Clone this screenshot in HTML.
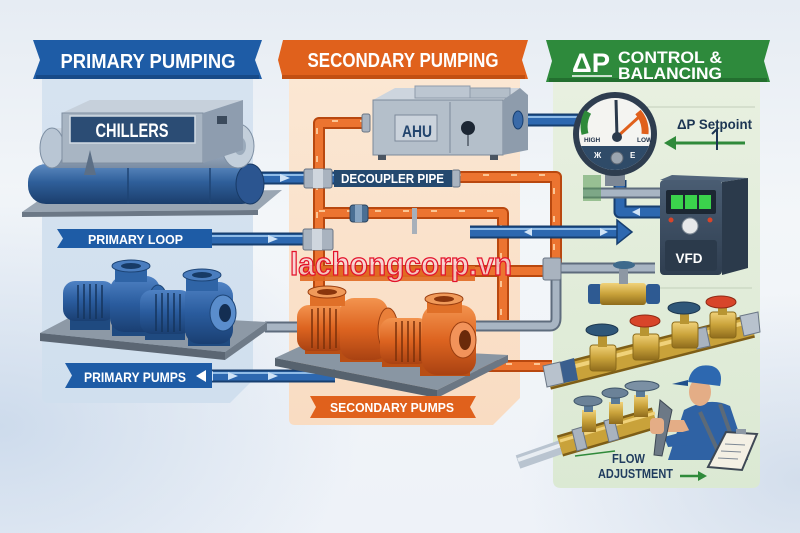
<!DOCTYPE html>
<html><head><meta charset="utf-8">
<style>
html,body{margin:0;padding:0;width:800px;height:533px;overflow:hidden;background:#eef2f7}
svg{display:block}
text{font-family:"Liberation Sans",sans-serif;font-weight:bold}
</style></head><body>
<svg width="800" height="533" viewBox="0 0 800 533" xmlns="http://www.w3.org/2000/svg">
<defs>
<linearGradient id="bg" x1="0" y1="0" x2="0" y2="1">
 <stop offset="0" stop-color="#e6ecf3"/><stop offset="0.4" stop-color="#f3f6f9"/><stop offset="1" stop-color="#eef2f8"/>
</linearGradient>
<radialGradient id="bgl" cx="0" cy="0.8" r="0.45">
 <stop offset="0" stop-color="#cddbec"/><stop offset="1" stop-color="#cddbec" stop-opacity="0"/>
</radialGradient>
<radialGradient id="bgr" cx="1" cy="0.9" r="0.35">
 <stop offset="0" stop-color="#d3deec"/><stop offset="1" stop-color="#d3deec" stop-opacity="0"/>
</radialGradient>
<linearGradient id="pp" x1="0" y1="0" x2="0" y2="1">
 <stop offset="0" stop-color="#d6e3f0"/><stop offset="1" stop-color="#d0dfee"/>
</linearGradient>
<linearGradient id="sp" x1="0" y1="0" x2="0" y2="1">
 <stop offset="0" stop-color="#fbe7d3"/><stop offset="1" stop-color="#f9dcc2"/>
</linearGradient>
<linearGradient id="gp" x1="0" y1="0" x2="0" y2="1">
 <stop offset="0" stop-color="#e8f0e0"/><stop offset="1" stop-color="#dbe9d3"/>
</linearGradient>
<linearGradient id="bcyl" x1="0" y1="0" x2="0" y2="1">
 <stop offset="0" stop-color="#5d8ac0"/><stop offset="0.45" stop-color="#2f5f9a"/><stop offset="1" stop-color="#1b3e6c"/>
</linearGradient>
<linearGradient id="gcyl" x1="0" y1="0" x2="0" y2="1">
 <stop offset="0" stop-color="#cdd7e2"/><stop offset="0.5" stop-color="#a3b3c5"/><stop offset="1" stop-color="#7a8ca3"/>
</linearGradient>
<linearGradient id="bpump" x1="0" y1="0" x2="0" y2="1">
 <stop offset="0" stop-color="#4f82c4"/><stop offset="0.5" stop-color="#2a5c9e"/><stop offset="1" stop-color="#1a3f72"/>
</linearGradient>
<linearGradient id="opump" x1="0" y1="0" x2="0" y2="1">
 <stop offset="0" stop-color="#f3944f"/><stop offset="0.5" stop-color="#dd6420"/><stop offset="1" stop-color="#a94212"/>
</linearGradient>
<linearGradient id="brass" x1="0" y1="0" x2="0" y2="1">
 <stop offset="0" stop-color="#f0d27a"/><stop offset="0.5" stop-color="#c9a23a"/><stop offset="1" stop-color="#8f6c1c"/>
</linearGradient>
<linearGradient id="vfd" x1="0" y1="0" x2="0" y2="1">
 <stop offset="0" stop-color="#4a5d73"/><stop offset="1" stop-color="#2f3e50"/>
</linearGradient>
<clipPath id="gclip"><circle cx="615" cy="134" r="36"/></clipPath>
</defs>

<!-- background -->
<rect width="800" height="533" fill="url(#bg)"/>
<rect width="800" height="533" fill="url(#bgl)"/>
<rect width="800" height="533" fill="url(#bgr)"/>

<!-- panels -->
<path d="M42 79 H253 V380 L230 403 H48 Q42 403 42 397 Z" fill="url(#pp)"/>
<path d="M289 79 H520 V398 L493 425 H295 Q289 425 289 419 Z" fill="url(#sp)"/>
<path d="M553 80 H760 V480 Q760 488 752 488 H561 Q553 488 553 480 Z" fill="url(#gp)"/>
<line x1="600" y1="107" x2="755" y2="107" stroke="#c3cfbb" stroke-width="1"/>
<line x1="640" y1="288" x2="752" y2="288" stroke="#c3cfbb" stroke-width="1"/>

<!-- banners -->
<polygon points="33,40 262,40 255,60 262,79 33,79 40,60" fill="#1e5ca6"/>
<rect x="36" y="75" width="223" height="4" fill="#174a88"/>
<text x="148" y="68" font-size="20" fill="#fff" text-anchor="middle" textLength="175" lengthAdjust="spacingAndGlyphs">PRIMARY PUMPING</text>

<polygon points="283,40 528,40 522,60 528,79 283,79 278,60" fill="#e0611c"/>
<rect x="282" y="75" width="243" height="4" fill="#c24f12"/>
<text x="403" y="67" font-size="20" fill="#fff" text-anchor="middle" textLength="191" lengthAdjust="spacingAndGlyphs">SECONDARY PUMPING</text>

<polygon points="546,40 770,40 764,61 770,82 546,82 552,61" fill="#2e8a3c"/>
<rect x="549" y="78" width="218" height="4" fill="#236f2f"/>
<text x="572" y="72" font-size="27" fill="#fff" textLength="38" lengthAdjust="spacingAndGlyphs">ΔP</text>
<line x1="572" y1="76" x2="612" y2="76" stroke="#fff" stroke-width="1.5"/>
<text x="618" y="63" font-size="17" fill="#fff" textLength="104" lengthAdjust="spacingAndGlyphs">CONTROL &amp;</text>
<text x="618" y="79" font-size="17" fill="#fff" textLength="104" lengthAdjust="spacingAndGlyphs">BALANCING</text>

<!-- ============ PIPES ============ -->
<g fill="none" stroke-linejoin="round" stroke-linecap="butt">
 <g stroke="#b9480f" stroke-width="12">
  <path d="M366 123 H319 V300"/>
  <path d="M319 213 H503 V320"/>
  <path d="M455 177 H556 V268"/>
  <path d="M300 271 H560"/>
  <path d="M478 366 H552"/>
 </g>
 <g stroke="#ec7430" stroke-width="8">
  <path d="M366 123 H319 V300"/>
  <path d="M319 213 H503 V320"/>
  <path d="M455 177 H556 V268"/>
  <path d="M300 271 H560"/>
  <path d="M478 366 H552"/>
 </g>
 <g stroke="#fbc594" stroke-width="2" stroke-dasharray="6 22">
  <path d="M366 121 H317 V300"/>
  <path d="M319 211 H501 V320"/>
  <path d="M455 175 H554 V268"/>
  <path d="M478 364 H552"/>
 </g>
 <g stroke="#173f70" stroke-width="13">
  <path d="M250 178 H460"/>
  <path d="M205 239 H305"/>
  <path d="M470 232 H620"/>
  <path d="M205 376 H335"/>
  <path d="M505 120 H578"/>
  <path d="M620 180 V212 H660"/>
 </g>
 <g stroke="#2d68b0" stroke-width="9">
  <path d="M250 178 H460"/>
  <path d="M205 239 H305"/>
  <path d="M470 232 H620"/>
  <path d="M205 376 H335"/>
  <path d="M505 120 H578"/>
  <path d="M620 180 V212 H660"/>
 </g>
 <g stroke="#8fbbe6" stroke-width="2">
  <path d="M250 175 H460"/>
  <path d="M205 236 H305"/>
  <path d="M470 229 H620"/>
  <path d="M210 373 H335"/>
  <path d="M505 117 H578"/>
 </g>
 <g stroke="#5e6c7d" stroke-width="11">
  <path d="M265 327 H300"/>
  <path d="M475 326 H550 Q556 326 556 318 V272"/>
  <path d="M583 193 H660"/>
  <path d="M545 268 H655"/>
 </g>
 <g stroke="#a8b5c3" stroke-width="7">
  <path d="M265 327 H300"/>
  <path d="M475 326 H550 Q556 326 556 318 V272"/>
  <path d="M583 193 H660"/>
  <path d="M545 268 H655"/>
 </g>
 <path d="M518 462 L590 437" stroke="#b9c4d0" stroke-width="14"/>
 <path d="M518 460 L590 435" stroke="#e8edf2" stroke-width="4"/>
</g>
<polygon points="617,220 632,232 617,244" fill="#2d68b0" stroke="#173f70" stroke-width="1.5"/>
<g fill="#cfe3f7">
 <polygon points="280,174 290,178 280,182"/>
 <polygon points="268,235 278,239 268,243"/>
 <polygon points="196,239 206,234 206,244"/>
 <polygon points="228,372 238,376 228,380"/>
 <polygon points="268,372 278,376 268,380"/>
 <polygon points="205,376 213,371 213,381"/>
 <polygon points="600,228 608,232 600,236"/>
 <polygon points="532,228 524,232 532,236"/>
 <polygon points="640,208 632,212 640,216"/>
</g>

<!-- couplings -->
<g>
 <rect x="304" y="169" width="28" height="19" rx="2" fill="#a9b3bf" stroke="#6a7685"/>
 <rect x="313" y="169" width="10" height="19" fill="#cfd6de"/>
 <rect x="452" y="170" width="8" height="17" rx="2" fill="#a9b3bf" stroke="#6a7685"/>
 <rect x="303" y="229" width="30" height="21" rx="2" fill="#a9b3bf" stroke="#6a7685"/>
 <rect x="312" y="229" width="10" height="21" fill="#cfd6de"/>
 <rect x="350" y="205" width="18" height="17" rx="3" fill="#4a6f94" stroke="#2c4560"/>
 <rect x="355" y="205" width="7" height="17" fill="#86a4c2"/>
 <rect x="362" y="114" width="8" height="18" rx="2" fill="#a9b3bf" stroke="#6a7685"/>
 <rect x="412" y="208" width="5" height="26" fill="#a7b0ba"/>
 <rect x="543" y="258" width="18" height="22" rx="2" fill="#a9b3bf" stroke="#6a7685"/>
</g>

<rect x="334" y="170" width="118" height="17" fill="#24496f"/>
<text x="341" y="183" font-size="12.5" fill="#fff" textLength="103" lengthAdjust="spacingAndGlyphs">DECOUPLER PIPE</text>

<!-- ============ CHILLERS ============ -->
<polygon points="22,212 48,194 282,190 258,210" fill="#9aa6b3"/>
<polygon points="22,212 258,210 258,215 22,217" fill="#6c7886"/>
<rect x="28" y="164" width="232" height="40" rx="18" fill="url(#bcyl)"/>
<ellipse cx="250" cy="184" rx="14" ry="20" fill="#2b5590" stroke="#183a66"/>
<line x1="128" y1="166" x2="128" y2="203" stroke="#1e4474" stroke-width="1.5"/>
<line x1="210" y1="166" x2="210" y2="203" stroke="#1e4474" stroke-width="1.5"/>
<rect x="40" y="128" width="212" height="40" rx="16" fill="url(#gcyl)"/>
<ellipse cx="52" cy="148" rx="12" ry="20" fill="#b9c6d4" stroke="#7e8fa3"/>
<ellipse cx="238" cy="146" rx="16" ry="22" fill="#c3cfdb" stroke="#7e8fa3"/>
<ellipse cx="240" cy="146" rx="6" ry="9" fill="#9aaabb"/>
<polygon points="62,113 90,100 243,100 203,113" fill="#c6d0db"/>
<rect x="62" y="113" width="141" height="50" fill="#a8b5c3" stroke="#7f8ea0" stroke-width="1"/>
<polygon points="203,113 243,100 243,150 203,163" fill="#8e9daf"/>
<rect x="217" y="116" width="10" height="8" fill="#3b4a5c"/>
<rect x="70" y="116" width="125" height="27" fill="#2b4c74" stroke="#d3dbe4" stroke-width="1.5"/>
<text x="132" y="137" font-size="19" fill="#fff" text-anchor="middle" textLength="73" lengthAdjust="spacingAndGlyphs">CHILLERS</text>
<path d="M84 175 L90 150 L96 175 Z" fill="#5c6f86"/>

<!-- ============ AHU ============ -->
<polygon points="373,100 395,88 520,88 503,100" fill="#cdd5de"/>
<rect x="415" y="86" width="55" height="12" fill="#bcc6d1" stroke="#8f9cab"/>
<rect x="470" y="88" width="40" height="10" fill="#b3bec9" stroke="#8f9cab"/>
<rect x="373" y="100" width="130" height="55" fill="#b4bfca" stroke="#7c8a9a"/>
<polygon points="503,100 520,88 528,95 528,150 503,155" fill="#8e9cac"/>
<rect x="395" y="115" width="42" height="26" fill="#cbd3dc" stroke="#7c8a9a"/>
<text x="417" y="137" font-size="17" fill="#23456e" text-anchor="middle" textLength="30" lengthAdjust="spacingAndGlyphs">AHU</text>
<line x1="450" y1="102" x2="450" y2="153" stroke="#7c8a9a"/>
<circle cx="468" cy="128" r="7" fill="#1c2633"/>
<line x1="468" y1="135" x2="468" y2="146" stroke="#1c2633"/>
<rect x="378" y="155" width="8" height="5" fill="#4a5562"/>
<rect x="490" y="155" width="8" height="5" fill="#4a5562"/>
<ellipse cx="518" cy="120" rx="5" ry="9" fill="#3a6aa8" stroke="#173f70"/>

<!-- ============ GAUGE ============ -->
<rect x="583" y="175" width="18" height="26" fill="#5a9a55" opacity="0.55"/>
<rect x="605" y="172" width="20" height="14" fill="#7d8896"/>
<circle cx="615" cy="134" r="42" fill="#2e3d4f"/>
<circle cx="615" cy="134" r="36" fill="#f4f4f1"/>
<rect x="575" y="146" width="80" height="30" fill="#2f4b68" clip-path="url(#gclip)"/>
<path d="M588 112 A30 30 0 0 0 585 134" fill="none" stroke="#2f8a3a" stroke-width="7"/>
<path d="M638 112 A30 30 0 0 1 645 134" fill="none" stroke="#e0601c" stroke-width="7"/>
<line x1="617" y1="137" x2="616" y2="100" stroke="#2b3a4c" stroke-width="3"/>
<line x1="617" y1="137" x2="640" y2="116" stroke="#e0601c" stroke-width="3"/>
<circle cx="617" cy="137" r="5" fill="#2b3a4c"/>
<text x="584" y="142" font-size="6.5" fill="#1f3048">HIGH</text>
<text x="637" y="142" font-size="6.5" fill="#1f3048">LOW</text>
<text x="594" y="158" font-size="8" fill="#fff">Ж</text>
<text x="630" y="158" font-size="8" fill="#fff">E</text>
<circle cx="617" cy="158" r="6" fill="#9ba5b0" stroke="#5c6673"/>

<!-- setpoint -->
<text x="677" y="129" font-size="14" fill="#1c3553" font-weight="normal" textLength="75" lengthAdjust="spacingAndGlyphs">ΔP Setpoint</text>
<line x1="672" y1="143" x2="745" y2="143" stroke="#2f8a3a" stroke-width="3"/>
<polygon points="664,143 676,136 676,150" fill="#2f8a3a"/>
<path d="M712 134 L717 129 L717 150" fill="none" stroke="#1c3553" stroke-width="2"/>

<!-- ============ VFD ============ -->
<polygon points="660,180 672,175 748,178 722,182" fill="#52657b"/>
<polygon points="722,182 748,178 748,268 722,275" fill="#2b3a4b"/>
<rect x="660" y="180" width="62" height="95" rx="4" fill="url(#vfd)"/>
<rect x="666" y="190" width="50" height="24" rx="2" fill="#1c2733"/>
<rect x="671" y="195" width="12" height="14" fill="#3bd34c"/>
<rect x="685" y="195" width="12" height="14" fill="#3bd34c"/>
<rect x="699" y="195" width="12" height="14" fill="#3bd34c"/>
<circle cx="671" cy="220" r="2.5" fill="#d8452a"/>
<circle cx="710" cy="220" r="2.5" fill="#d8452a"/>
<circle cx="690" cy="226" r="8" fill="#e6e8ea" stroke="#7d8894"/>
<rect x="665" y="240" width="52" height="31" rx="3" fill="#2b3a4b"/>
<text x="689" y="263" font-size="14" fill="#fff" text-anchor="middle" textLength="27" lengthAdjust="spacingAndGlyphs">VFD</text>

<!-- ============ PRIMARY LOOP label ============ -->
<polygon points="57,229 212,229 212,248 57,248 63,238.5" fill="#1e5ca6"/>
<text x="88" y="244" font-size="13" fill="#fff" textLength="95" lengthAdjust="spacingAndGlyphs">PRIMARY LOOP</text>

<!-- ============ PRIMARY PUMPS ============ -->
<polygon points="40,333 80,312 267,322 225,352" fill="#8d99a6"/>
<polygon points="40,333 225,352 225,360 40,341" fill="#5b6673"/>
<polygon points="225,352 267,322 267,330 225,360" fill="#6f7b88"/>
<rect x="70" y="318" width="40" height="12" fill="#1f4a80"/>
<rect x="112" y="322" width="40" height="14" fill="#1f4a80"/>
<rect x="145" y="328" width="40" height="12" fill="#1f4a80"/>
<rect x="188" y="332" width="42" height="14" fill="#1f4a80"/>
<rect x="63" y="281" width="52" height="40" rx="12" fill="url(#bpump)"/>
<g stroke="#15345c" stroke-width="1.5">
 <line x1="78" y1="285" x2="78" y2="318"/><line x1="84" y1="284" x2="84" y2="319"/><line x1="90" y1="284" x2="90" y2="319"/><line x1="96" y1="284" x2="96" y2="319"/><line x1="102" y1="285" x2="102" y2="318"/>
</g>
<rect x="110" y="276" width="50" height="56" rx="14" fill="url(#bpump)"/>
<rect x="115" y="266" width="32" height="16" fill="#2f64a6"/>
<ellipse cx="131" cy="266" rx="19" ry="6" fill="#4a7dbf" stroke="#1d4577"/>
<ellipse cx="131" cy="266" rx="10" ry="3" fill="#173a66"/>
<ellipse cx="158" cy="305" rx="10" ry="20" fill="#3368ab" stroke="#1d4577"/>
<rect x="140" y="290" width="52" height="44" rx="12" fill="url(#bpump)"/>
<g stroke="#15345c" stroke-width="1.5">
 <line x1="156" y1="294" x2="156" y2="331"/><line x1="162" y1="293" x2="162" y2="332"/><line x1="168" y1="293" x2="168" y2="332"/><line x1="174" y1="293" x2="174" y2="332"/><line x1="180" y1="294" x2="180" y2="331"/>
</g>
<rect x="185" y="282" width="48" height="62" rx="14" fill="url(#bpump)"/>
<rect x="186" y="275" width="32" height="16" fill="#2f64a6"/>
<ellipse cx="202" cy="275" rx="19" ry="6" fill="#4a7dbf" stroke="#1d4577"/>
<ellipse cx="202" cy="275" rx="10" ry="3" fill="#173a66"/>
<ellipse cx="223" cy="313" rx="13" ry="18" fill="#5a8dcc" stroke="#1d4577"/>
<ellipse cx="225" cy="313" rx="6" ry="9" fill="#132e52"/>

<polygon points="65,363 212,363 212,388 65,388 72,375.5" fill="#1e5ca6"/>
<text x="84" y="382" font-size="14" fill="#fff" textLength="102" lengthAdjust="spacingAndGlyphs">PRIMARY PUMPS</text>
<polygon points="196,376 206,370 206,382" fill="#fff"/>

<!-- ============ SECONDARY PUMPS ============ -->
<polygon points="275,358 303,345 508,355 437,390" fill="#8996a3"/>
<polygon points="275,358 437,390 437,398 275,366" fill="#56626e"/>
<polygon points="437,390 508,355 508,362 437,398" fill="#6b7784"/>
<rect x="305" y="342" width="40" height="12" fill="#b94e14"/>
<rect x="340" y="348" width="45" height="14" fill="#b94e14"/>
<rect x="382" y="355" width="40" height="12" fill="#b94e14"/>
<rect x="420" y="360" width="50" height="16" fill="#b94e14"/>
<rect x="297" y="305" width="50" height="46" rx="12" fill="url(#opump)"/>
<g stroke="#7a300a" stroke-width="1.5">
 <line x1="312" y1="309" x2="312" y2="348"/><line x1="318" y1="308" x2="318" y2="349"/><line x1="324" y1="308" x2="324" y2="349"/><line x1="330" y1="308" x2="330" y2="349"/><line x1="336" y1="309" x2="336" y2="348"/>
</g>
<rect x="340" y="298" width="48" height="62" rx="14" fill="url(#opump)"/>
<rect x="310" y="292" width="35" height="14" fill="#e07028"/>
<ellipse cx="327" cy="292" rx="19" ry="6" fill="#f09a5a" stroke="#9a3e10"/>
<ellipse cx="327" cy="292" rx="10" ry="3" fill="#8a350c"/>
<ellipse cx="388" cy="330" rx="10" ry="22" fill="#e9803a" stroke="#9a3e10"/>
<rect x="380" y="318" width="50" height="46" rx="12" fill="url(#opump)"/>
<g stroke="#7a300a" stroke-width="1.5">
 <line x1="396" y1="322" x2="396" y2="361"/><line x1="402" y1="321" x2="402" y2="362"/><line x1="408" y1="321" x2="408" y2="362"/><line x1="414" y1="321" x2="414" y2="362"/><line x1="420" y1="322" x2="420" y2="361"/>
</g>
<rect x="422" y="305" width="54" height="70" rx="15" fill="url(#opump)"/>
<rect x="427" y="299" width="35" height="14" fill="#e07028"/>
<ellipse cx="444" cy="299" rx="19" ry="6" fill="#f09a5a" stroke="#9a3e10"/>
<ellipse cx="444" cy="299" rx="10" ry="3" fill="#8a350c"/>
<ellipse cx="463" cy="340" rx="13" ry="18" fill="#f2935a" stroke="#9a3e10"/>
<ellipse cx="465" cy="340" rx="6" ry="10" fill="#6b2a0a"/>

<polygon points="310,396 476,396 470,407 476,418 310,418 316,407" fill="#e0611c"/>
<text x="392" y="412" font-size="13" fill="#fff" text-anchor="middle" textLength="124" lengthAdjust="spacingAndGlyphs">SECONDARY PUMPS</text>

<!-- ============ VALVES ============ -->
<rect x="588" y="284" width="14" height="20" rx="3" fill="#2e5a92"/>
<rect x="646" y="284" width="14" height="20" rx="3" fill="#2e5a92"/>
<rect x="600" y="283" width="46" height="22" rx="3" fill="url(#brass)"/>
<rect x="619" y="266" width="9" height="18" fill="#8d98a4"/>
<ellipse cx="624" cy="265" rx="11" ry="4" fill="#3e6a8c"/>

<path d="M548 378 L752 326" stroke="#7e5e17" stroke-width="24" fill="none"/>
<path d="M548 378 L752 326" stroke="#c9a23a" stroke-width="19" fill="none"/>
<path d="M548 373 L752 321" stroke="#f0d27a" stroke-width="4" fill="none"/>
<polygon points="543,366 560,362 564,383 547,387" fill="#b8c2cd" stroke="#6a7685"/>
<polygon points="560,362 574,358 578,380 564,383" fill="#3a5f8e"/>
<polygon points="740,316 758,312 760,332 744,336" fill="#b8c2cd" stroke="#6a7685"/>
<polygon points="693,330 706,327 710,346 697,349" fill="#a9b3bf" stroke="#6a7685"/>
<g>
 <rect x="590" y="345" width="26" height="26" rx="3" fill="url(#brass)" stroke="#8a6a1a"/>
 <rect x="598" y="332" width="9" height="15" fill="#b89532"/>
 <ellipse cx="602" cy="330" rx="16" ry="6" fill="#2f5779" stroke="#1d3850"/>
 <rect x="633" y="334" width="26" height="26" rx="3" fill="url(#brass)" stroke="#8a6a1a"/>
 <rect x="640" y="323" width="9" height="13" fill="#b89532"/>
 <ellipse cx="645" cy="321" rx="15" ry="6" fill="#d8452a" stroke="#8f2a15"/>
 <rect x="672" y="322" width="26" height="26" rx="3" fill="url(#brass)" stroke="#8a6a1a"/>
 <rect x="680" y="310" width="9" height="14" fill="#b89532"/>
 <ellipse cx="684" cy="308" rx="16" ry="6" fill="#2f5779" stroke="#1d3850"/>
 <rect x="710" y="312" width="26" height="26" rx="3" fill="url(#brass)" stroke="#8a6a1a"/>
 <rect x="718" y="303" width="9" height="12" fill="#b89532"/>
 <ellipse cx="721" cy="302" rx="15" ry="6" fill="#d8452a" stroke="#8f2a15"/>
</g>

<path d="M560 446 L655 418" stroke="#7e5e17" stroke-width="22" fill="none"/>
<path d="M560 446 L655 418" stroke="#c9a23a" stroke-width="17" fill="none"/>
<path d="M560 441 L655 413" stroke="#f0d27a" stroke-width="3" fill="none"/>
<polygon points="572,430 582,427 587,448 577,451" fill="#a9b3bf" stroke="#6a7685"/>
<polygon points="604,421 614,418 619,439 609,442" fill="#a9b3bf" stroke="#6a7685"/>
<g>
 <rect x="582" y="410" width="14" height="22" fill="url(#brass)"/>
 <rect x="584" y="402" width="9" height="10" fill="#5a7a98"/>
 <ellipse cx="588" cy="401" rx="14" ry="5" fill="#6b8298" stroke="#3e5468"/>
 <rect x="609" y="402" width="14" height="22" fill="url(#brass)"/>
 <rect x="611" y="394" width="9" height="10" fill="#5a7a98"/>
 <ellipse cx="615" cy="393" rx="13" ry="5" fill="#6b8298" stroke="#3e5468"/>
 <rect x="634" y="395" width="14" height="22" fill="url(#brass)"/>
 <rect x="636" y="387" width="9" height="10" fill="#5a7a98"/>
 <ellipse cx="642" cy="386" rx="17" ry="5" fill="#7b90a4" stroke="#3e5468"/>
</g>
<line x1="575" y1="456" x2="615" y2="451" stroke="#2f8a3a" stroke-width="1.5"/>

<!-- ============ WORKER ============ -->
<path d="M684 410 Q710 396 730 406 L748 460 L668 460 Z" fill="#2f62a4"/>
<path d="M700 412 L722 460" stroke="#5c6a78" stroke-width="4"/>
<path d="M720 404 L738 455" stroke="#5c6a78" stroke-width="4"/>
<ellipse cx="700" cy="392" rx="11" ry="14" fill="#e4ad86"/>
<path d="M688 382 Q692 362 712 366 Q724 370 720 386 Z" fill="#2d68b0"/>
<path d="M688 380 L672 384 L688 386 Z" fill="#1f4f8c"/>
<path d="M684 420 L660 420 L660 432 L690 432 Z" fill="#e4ad86"/>
<path d="M690 430 L690 445 L668 447 L664 437 Z" fill="#2f62a4"/>
<path d="M660 400 L672 410 L662 456 L654 455 Z" fill="#6d7986" stroke="#3e4854"/>
<rect x="650" y="418" width="14" height="16" rx="4" fill="#e4ad86"/>
<polygon points="708,467 726,432 757,434 742,470" fill="#f4f0e4" stroke="#3e4854" stroke-width="2"/>
<rect x="736" y="429" width="10" height="5" fill="#8d98a4"/>
<g stroke="#7d8894" stroke-width="1">
 <line x1="725" y1="444" x2="745" y2="445"/><line x1="721" y1="451" x2="741" y2="452"/><line x1="718" y1="458" x2="738" y2="459"/>
</g>

<text x="612" y="463" font-size="13" fill="#1f3b5e" textLength="33" lengthAdjust="spacingAndGlyphs">FLOW</text>
<text x="598" y="478" font-size="13" fill="#1f3b5e" textLength="75" lengthAdjust="spacingAndGlyphs">ADJUSTMENT</text>
<line x1="680" y1="476" x2="700" y2="476" stroke="#2f8a3a" stroke-width="2.5"/>
<polygon points="707,476 698,471 698,481" fill="#2f8a3a"/>

<!-- ============ WATERMARK ============ -->
<rect x="300" y="266" width="175" height="15" fill="#e06a22" opacity="0.9"/>
<text x="290" y="275" font-size="32" font-weight="normal" fill="#f7d4d6" fill-opacity="0.85" stroke="#e3122a" stroke-width="1.3" textLength="222" lengthAdjust="spacingAndGlyphs">lachongcorp.vn</text>
</svg>
</body></html>
